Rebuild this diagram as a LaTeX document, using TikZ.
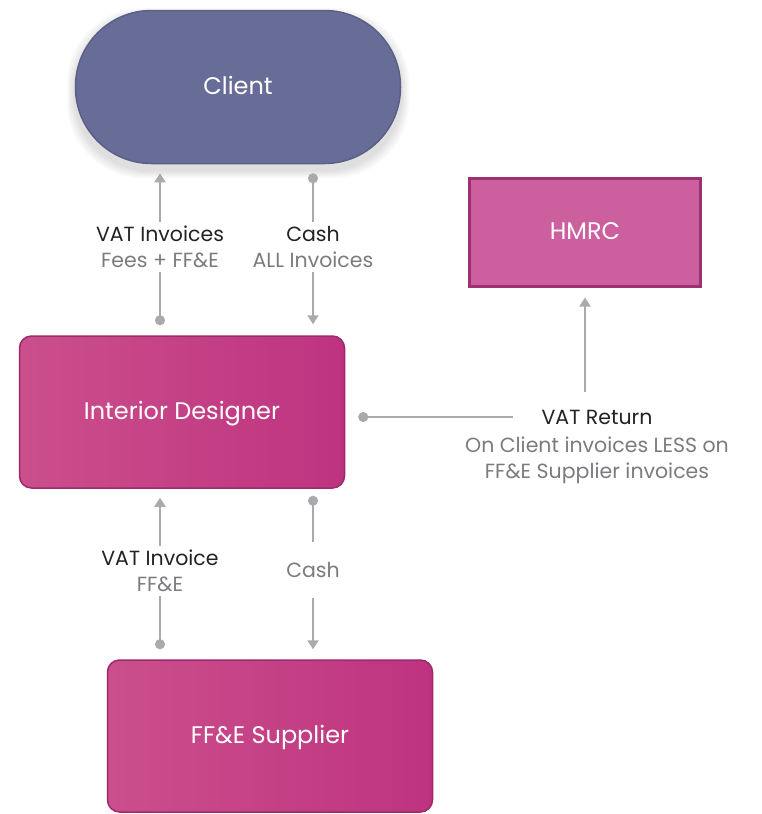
\documentclass[tikz,border=0pt]{standalone}
\usepackage{fontspec}
\setmainfont{Poppins}
\usetikzlibrary{arrows.meta}
\usetikzlibrary{positioning,calc,backgrounds}
\definecolor{clientfill}{HTML}{686D98}
\definecolor{clientedge}{HTML}{5B5F88}
\definecolor{boxleft}{HTML}{CB4F8C}
\definecolor{boxright}{HTML}{BE3380}
\definecolor{boxedge}{HTML}{9C2A6C}
\definecolor{hmrcfill}{HTML}{CC5F9E}
\definecolor{hmrcedge}{HTML}{9E2F73}
\definecolor{linkgrey}{HTML}{A9AAAD}
\definecolor{txtgrey}{HTML}{7A7B7E}
\definecolor{txtdark}{HTML}{222224}
\tikzset{
  party/.style={draw=boxedge, line width=1.5pt, rounded corners=12pt, left color=boxleft, right color=boxright,
    minimum width=325pt, minimum height=152pt, text=white, font=\fontsize{24}{28}\selectfont,
    text height=17pt, text depth=3pt},
  link/.style={draw=linkgrey, line width=2pt},
  from/.style={link, {Circle[length=10pt]}-},
  to/.style={link, -{Triangle[length=9pt,width=11pt]}},
  lbl/.style={align=center, font=\fontsize{20.5}{26}\selectfont, text=txtgrey, inner xsep=5pt, inner ysep=4pt}
}
\begin{document}
\begin{tikzpicture}[x=1pt,y=-1pt]
\useasboundingbox (0,0) rectangle (762,814);
\node[party, draw=clientedge, left color=clientfill, right color=clientfill,
  rounded corners=76pt, minimum height=153pt] (client) at (238,87) {Client};
\node[party, draw=hmrcedge, left color=hmrcfill, right color=hmrcfill, line width=3pt,
  rounded corners=0pt, minimum width=231pt, minimum height=108pt] (hmrc) at (585,232) {HMRC};
\node[party] (designer) at (182,412) {Interior Designer};
\node[party] (supplier) at (270,736) {FF\&E Supplier};

\begin{scope}[on background layer]
\foreach \s in {2,4,...,16}
  \fill[black, opacity=.014, rounded corners=76pt]
    ($(client.south west)+(-\s/2,6+\s/2)$) rectangle ($(client.north east)+(\s/2,6-\s/2)$);
\end{scope}

\node[lbl] (vatinv) at (160,247) {{\color{txtdark}VAT Invoices}\\Fees + FF\&E};
\node[lbl] (cashall) at (313,247) {{\color{txtdark}Cash}\\ALL Invoices};
\node[lbl, inner xsep=28pt] (vatret) at (597,417) {{\color{txtdark}VAT Return}};
\node[lbl] (vatnote) at (597,460) {On Client invoices LESS on\\FF\&E Supplier invoices};
\node[lbl] (vatff) at (160,571) {{\color{txtdark}VAT Invoice}\\FF\&E};
\node[lbl, inner ysep=20pt] (cashff) at (313,570) {Cash};

\draw[from, shorten <=10pt] (designer.north -| vatinv) -- (vatinv);
\draw[to, shorten >=9pt] (vatinv) -- (client.south -| vatinv);
\draw[from, shorten <=9pt] (client.south -| cashall) -- (cashall);
\draw[to, shorten >=11pt] (cashall) -- (designer.north -| cashall);
\draw[from, shorten <=13pt] (designer.east |- vatret) -- (vatret);
\draw[to, shorten <=14pt, shorten >=10pt] (vatret.north -| hmrc.south) -- (hmrc.south);
\draw[from, shorten <=10pt] (supplier.north -| vatff) -- (vatff);
\draw[to, shorten >=9pt] (vatff) -- (designer.south -| vatff);
\draw[from, shorten <=7pt] (designer.south -| cashff) -- (cashff);
\draw[to, shorten >=10pt] (cashff) -- (supplier.north -| cashff);
\end{tikzpicture}
\end{document}
